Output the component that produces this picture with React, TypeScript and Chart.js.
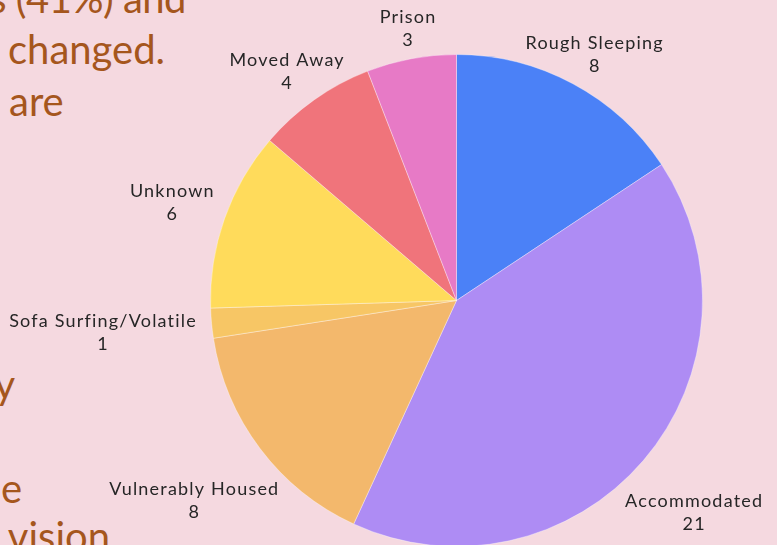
import React, { useEffect, useRef } from "react";
import { Chart, registerables } from "chart.js";

Chart.register(...registerables);

const categories = [
  "Rough Sleeping",
  "Accommodated",
  "Vulnerably Housed",
  "Sofa Surfing/Volatile",
  "Unknown",
  "Moved Away",
  "Prison",
];
const counts = [8, 21, 8, 1, 6, 4, 3];
const sliceColors = [
  "#4b81f7",
  "#ae8cf4",
  "#f3b86c",
  "#f7c665",
  "#ffdb5b",
  "#f0747b",
  "#e77ac6",
];

const BG = "#f5d9e0";
const LABEL_FONT = "18px Lato, 'Open Sans', sans-serif";
const LINE_H = 23;
const PAD = 4;
const GAP = 11.5;

const outLabels = {
  id: "outLabels",
  afterDatasetsDraw(chart: any) {
    const ctx = chart.ctx;
    const meta = chart.getDatasetMeta(0);
    ctx.save();
    ctx.font = LABEL_FONT;
    (ctx as any).letterSpacing = "1.2px";
    ctx.fillStyle = "#262626";
    ctx.textAlign = "center";
    ctx.textBaseline = "middle";
    meta.data.forEach((arc: any, i: number) => {
      const p = arc.getProps(["x", "y", "startAngle", "endAngle", "outerRadius"], true);
      const mid = (p.startAngle + p.endAngle) / 2;
      const vx = Math.cos(mid);
      const vy = Math.sin(mid);
      const lines = [categories[i], String(counts[i])];
      const w = Math.max(...lines.map((l) => ctx.measureText(l).width)) + 2 * PAD;
      const h = lines.length * LINE_H + 2 * PAD;
      const d = p.outerRadius + GAP;
      const dxExtra = (w / 2) * vx * Math.abs(vx);
      const k = Math.min(1, 2 * Math.abs(vy));
      const dyExtra = vy < 0 ? -(h / 2) * 0.7 * k : (h / 2 + 18) * k;
      const cx = p.x + d * vx + dxExtra;
      const cy = p.y + d * vy + dyExtra;
      lines.forEach((l, j) => {
        ctx.fillText(l, cx, cy - h / 2 + PAD + LINE_H * (j + 0.5));
      });
    });
    ctx.restore();
  },
};

const textStyle: React.CSSProperties = {
  position: "absolute",
  color: "#a5561d",
  font: "400 40px Lato, 'Open Sans', sans-serif",
  whiteSpace: "nowrap",
  lineHeight: "1",
  margin: 0,
};

export default function App() {
  const canvasRef = useRef<HTMLCanvasElement>(null);

  useEffect(() => {
    document.body.style.margin = "0";
    const chart = new Chart(canvasRef.current!, {
      type: "pie",
      data: {
        labels: categories,
        datasets: [
          {
            data: counts,
            backgroundColor: sliceColors,
            borderColor: "rgba(255,255,255,0.35)",
            borderWidth: 1,
          },
        ],
      },
      options: {
        responsive: false,
        animation: false,
        layout: { padding: { top: 54, left: 210, right: 74, bottom: 53 } },
        plugins: {
          legend: { display: false },
          tooltip: { enabled: false },
        },
      },
      plugins: [outLabels],
    });
    return () => chart.destroy();
  }, []);

  return (
    <div
      style={{
        position: "fixed",
        left: 0,
        top: 0,
        width: 777,
        height: 545,
        overflow: "hidden",
        background: BG,
      }}
    >
      <div style={{ ...textStyle, right: 777 - 186, top: -22, letterSpacing: "-0.5px" }}>s (41%) and</div>
      <div style={{ ...textStyle, left: 8, top: 29 }}>changed.</div>
      <div style={{ ...textStyle, left: 9, top: 81 }}>are</div>
      <div style={{ ...textStyle, right: 777 - 15, top: 364 }}>y</div>
      <div style={{ ...textStyle, right: 777 - 22, top: 468 }}>e</div>
      <div style={{ ...textStyle, right: 777 - 110, top: 516 }}>r vision</div>
      <canvas
        ref={canvasRef}
        width={777}
        height={600}
        style={{ position: "absolute", left: 0, top: 0, width: 777, height: 600 }}
      />
    </div>
  );
}
